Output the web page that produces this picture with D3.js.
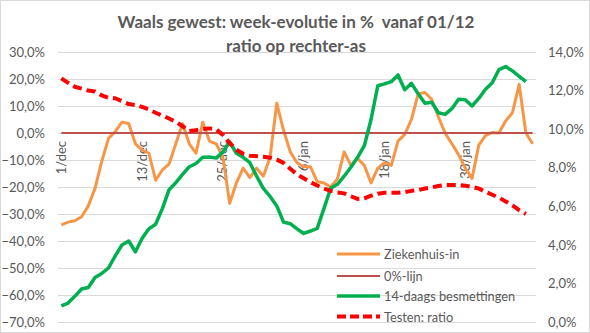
<!DOCTYPE html>
<html>
<head>
<meta charset="utf-8">
<script src="https://cdn.jsdelivr.net/npm/d3@7"></script>
<style>
  html, body { margin: 0; padding: 0; background: #fff; }
  svg { display: block; }
  text { font-family: Lato, "Open Sans", sans-serif; fill: #595959; }
</style>
</head>
<body>
<svg id="chart" width="590" height="333"></svg>
<script>
// Days shown on the category axis: 1 december 2020 up to 9 februari 2021
const dates = d3.timeDay.range(new Date(2020, 11, 1), new Date(2021, 1, 10));

// Week-on-week change of hospital admissions (%), left axis
const ziekenhuisIn = [
  -34, -33, -32.5, -31, -27, -20.5, -10.5, -2, 0.5, 4,
  3.5, -4, -6.3, -7.5, -17.5, -13.7, -11.5, -4, 3.5, -4,
  -7.5, 4, -3, -4, -9, -26, -18.5, -13, -16.5, -13,
  -16, -9, 11, 1, -7, -11, -12.5, -12.5, -18, -18.5,
  -20, -17, -7, -12, -9.5, -12, -18.5, -13, -11, -12,
  -3, -0.5, 5, 14.5, 15, 12.5, 6, 0, -4, -8,
  -13, -16.8, -4.5, -1, 0.2, 0, 4.5, 7.5, 18, 0,
  -4
];

// Reference line at 0% (left axis)
const nulLijn = dates.map(() => 0);

// Week-on-week change of 14-day infections (%), left axis
const besmettingen = [
  -64, -63, -60.5, -57.8, -57.2, -53.5, -52, -50, -45.5, -41.5,
  -40, -44, -39, -35.5, -33.8, -28, -21, -18.4, -15.3, -12.5,
  -11.3, -9, -8.9, -9.3, -7, -3.3, -7.5, -9, -11, -16,
  -20.5, -23.5, -27, -33, -33.6, -35.5, -37.2, -36.3, -35.3, -28,
  -20.5, -19, -16, -12.7, -9, -4.7, 5, 17.5, 18.2, 19,
  21.5, 16, 18.4, 14.5, 11, 11.4, 7.5, 6.9, 9, 12.5,
  12.3, 10, 12.8, 16.2, 18.6, 23.5, 24.6, 23, 21, 19
];

// Positivity ratio of tests (%), right axis
const testRatio = [
  12.63, 12.4, 12.2, 12.1, 12.0, 11.95, 11.75, 11.62, 11.6, 11.45,
  11.3, 11.25, 11.15, 11.02, 10.85, 10.7, 10.55, 10.38, 10.15, 9.9,
  9.95, 10.0, 10.04, 10.0, 9.7, 9.28, 8.93, 8.72, 8.62, 8.6,
  8.57, 8.52, 8.42, 8.25, 7.95, 7.65, 7.45, 7.25, 7.08, 6.92,
  6.8, 6.72, 6.67, 6.52, 6.38, 6.41, 6.55, 6.65, 6.7, 6.7,
  6.7, 6.73, 6.8, 6.84, 6.92, 6.98, 7.05, 7.1, 7.1, 7.1,
  7.07, 7.0, 6.92, 6.75, 6.6, 6.45, 6.25, 6.05, 5.8, 5.6
];

// Axis ticks
const leftTicks = [-70, -60, -50, -40, -30, -20, -10, 0, 10, 20, 30];
const rightTicks = [0, 2, 4, 6, 8, 10, 12, 14];
const xTickLabels = ["1/dec", "13/dec", "25/dec", "6/jan", "18/jan", "30/jan"];
const xTickIndex = [0, 12, 24, 36, 48, 60];

const seriesNames = ["Ziekenhuis-in", "0%-lijn", "14-daags besmettingen", "Testen: ratio"];
const colors = {
  orange: "#F79646",
  darkRed: "#C0504D",
  green: "#00B050",
  red: "#FF0000"
};

const svg = d3.select("#chart");
const W = 590, H = 333;
const plot = { left: 58, right: 536, top: 52, bottom: 322 };

// Chart area border
svg.append("rect")
  .attr("x", 0.5).attr("y", 0.5)
  .attr("width", W - 1).attr("height", H - 1)
  .attr("fill", "#fff").attr("stroke", "#D9D9D9");

const nl = d3.formatLocale({ decimal: ",", thousands: ".", grouping: [3], currency: ["€", ""] });
const pct = nl.format(".1f");

const x = d3.scaleBand().domain(dates).range([plot.left, plot.right]);
const cx = d => x(d) + x.bandwidth() / 2;
const yL = d3.scaleLinear().domain([-70, 30]).range([plot.bottom, plot.top]);
const yR = d3.scaleLinear().domain([0, 14]).range([plot.bottom, plot.top]);

// Horizontal gridlines (left axis)
const grid = svg.append("g")
  .attr("transform", `translate(${plot.left},0)`)
  .call(d3.axisLeft(yL).tickValues(leftTicks).tickSize(-(plot.right - plot.left)).tickFormat(""));
grid.select(".domain").remove();
grid.selectAll("line").attr("stroke", "#D9D9D9").attr("stroke-width", 1);

// Left axis labels
const axL = svg.append("g")
  .attr("transform", `translate(${plot.left},0)`)
  .call(d3.axisLeft(yL).tickValues(leftTicks).tickSize(0).tickPadding(13).tickFormat(v => pct(v) + "%"));
axL.select(".domain").remove();
axL.selectAll("text").attr("font-size", 13).attr("fill", "#595959").style("font-family", "Lato, sans-serif");

// Right axis labels
const axR = svg.append("g")
  .attr("transform", `translate(${plot.right},0)`)
  .call(d3.axisRight(yR).tickValues(rightTicks).tickSize(0).tickPadding(12).tickFormat(v => pct(v) + "%"));
axR.select(".domain").remove();
axR.selectAll("text").attr("font-size", 13).attr("fill", "#595959").style("font-family", "Lato, sans-serif");

// Category axis: crosses at 0% on the left axis, labels rotated
const tickDates = xTickIndex.map(i => dates[i]);
const axX = svg.append("g")
  .attr("transform", `translate(0,${yL(0)})`)
  .call(d3.axisBottom(x).tickValues(tickDates).tickSize(0)
    .tickFormat((d, i) => xTickLabels[i]));
axX.select(".domain").remove();
axX.selectAll("text")
  .attr("font-size", 13)
  .attr("fill", "#595959")
  .style("font-family", "Lato, sans-serif")
  .attr("text-anchor", "end")
  .attr("dy", null)
  .attr("y", 0)
  .attr("transform", "translate(4.5,8) rotate(-90)");

const line = (yScale) => d3.line()
  .x((d, i) => cx(dates[i]))
  .y(d => yScale(d));

// Series, in drawing order
svg.append("path").datum(ziekenhuisIn)
  .attr("d", line(yL)).attr("fill", "none")
  .attr("stroke", colors.orange).attr("stroke-width", 3).attr("stroke-linejoin", "round");

svg.append("path").datum(nulLijn)
  .attr("d", line(yL)).attr("fill", "none")
  .attr("stroke", colors.darkRed).attr("stroke-width", 2);

svg.append("path").datum(besmettingen)
  .attr("d", line(yL)).attr("fill", "none")
  .attr("stroke", colors.green).attr("stroke-width", 3.5).attr("stroke-linejoin", "round");

svg.append("path").datum(testRatio)
  .attr("d", line(yR)).attr("fill", "none")
  .attr("stroke", colors.red).attr("stroke-width", 4)
  .attr("stroke-dasharray", "9,5").attr("stroke-linejoin", "round");

// Title
const title = svg.append("g").attr("font-weight", "bold").attr("font-size", 17).attr("text-anchor", "middle");
title.append("text").attr("x", 296).attr("y", 28)
  .style("white-space", "pre")
  .text("Waals gewest: week-evolutie in %  vanaf 01/12");
title.append("text").attr("x", 296).attr("y", 52).text("ratio op rechter-as");

// Legend
const legendItems = [
  { name: seriesNames[0], color: colors.orange, width: 3, dash: null },
  { name: seriesNames[1], color: colors.darkRed, width: 2, dash: null },
  { name: seriesNames[2], color: colors.green, width: 3.5, dash: null },
  { name: seriesNames[3], color: colors.red, width: 4, dash: "9,4" }
];
const legend = svg.append("g");
const rowY = [254, 276, 296, 316.5];
legendItems.forEach((it, i) => {
  const g = legend.append("g").attr("transform", `translate(337,${rowY[i]})`);
  g.append("line").attr("x1", 0).attr("x2", 43).attr("y1", 0).attr("y2", 0)
    .attr("stroke", it.color).attr("stroke-width", it.width)
    .attr("stroke-dasharray", it.dash);
  g.append("text").attr("x", 47).attr("y", 5).attr("font-size", 12.8).text(it.name);
});
</script>
</body>
</html>
